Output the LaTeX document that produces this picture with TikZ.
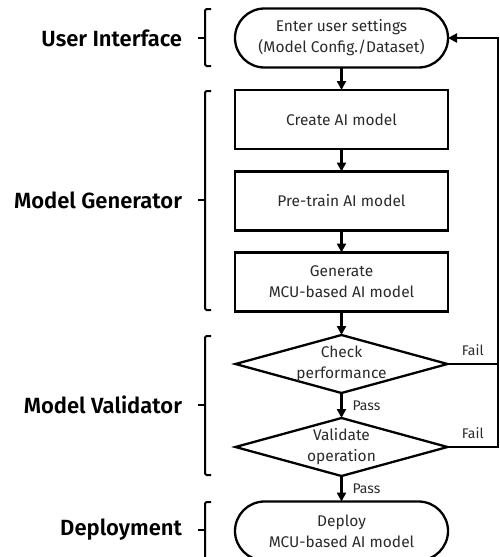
\documentclass[tikz,border=0pt]{standalone}
\usepackage{fontspec}
\setmainfont{Fira Sans}[BoldFont={* SemiBold}]
\usetikzlibrary{arrows.meta,shapes.misc,shapes.geometric}
\definecolor{txt}{HTML}{2a2a2a}
\tikzset{
  every node/.style={inner sep=0pt,outer sep=0pt},
  body/.style={font=\fontsize{15.5}{21}\selectfont,text=txt,align=center},
  terminal/.style={body,draw,line width=2.3pt,rounded rectangle,minimum width=213pt,minimum height=59pt},
  procbox/.style={body,draw,line width=2.3pt,rectangle,minimum width=213pt,minimum height=59pt},
  decision/.style={draw,line width=2.3pt,diamond,minimum width=212pt,minimum height=58pt},
  small/.style={font=\fontsize{14}{16}\selectfont,text=txt},
  group/.style={font=\bfseries\fontsize{22}{24}\selectfont,anchor=east},
  flow/.style={line width=2.3pt,-{Triangle[length=9pt,width=9pt]}},
  plain/.style={line width=2.3pt},
  brk/.style={line width=2pt,rounded corners=1.5pt},
}
\begin{document}
\begin{tikzpicture}[x=1pt,y=-1pt]
\useasboundingbox (0,0) rectangle (500,557);
\clip (0,0) rectangle (500,557);

% nodes
\node[terminal] (t1) at (341.5,38) {Enter user settings\\(Model Config./Dataset)};
\node[procbox] (b1) at (341.5,119.5) {Create AI model};
\node[procbox] (b2) at (341.5,201) {Pre-train AI model};
\node[procbox] (b3) at (341.5,282) {Generate\\MCU-based AI model};
\node[decision] (d1) at (341.5,364) {};
\node[body] (d1t) at (d1) {Check\\performance};
\node[decision] (d2) at (341.5,447) {};
\node[body] (d2t) at (d2) {Validate\\operation};
\node[terminal] (t2) at (341.5,531) {Deploy\\MCU-based AI model};

% flow
\draw[flow] (t1) -- (b1);
\draw[flow] (b1) -- (b2);
\draw[flow] (b2) -- (b3);
\draw[flow] (b3) -- (d1);
\draw[flow] (d1) -- (d2) node[small,midway,anchor=west,xshift=11pt] {Pass};
\draw[flow] (d2) -- (t2) node[small,midway,anchor=west,xshift=11pt] {Pass};

% feedback
\coordinate (fbx) at (498,0);
\draw[plain] (d1.east) -- (d1.east -| fbx) node[small,midway,anchor=south,yshift=8pt] {Fail};
\draw[flow] (d2.east) -- (d2.east -| fbx) node[small,midway,anchor=south,yshift=8pt] {Fail} |- (t1.east);

% group labels and brackets
\node[group] (g1) at (182,38) {User Interface};
\node[group] (g2) at (182,200) {Model Generator};
\node[group] (g3) at (182,405) {Model Validator};
\node[group] (g4) at (182,530) {Deployment};

\draw[brk] (211,9) -- (205,9) -- (205,66) -- (211,66);
\draw[brk] (198,38) -- (205,38);
\draw[brk] (211,91) -- (205,91) -- (205,310) -- (211,310);
\draw[brk] (198,200) -- (205,200);
\draw[brk] (211,336) -- (205,336) -- (205,475) -- (211,475);
\draw[brk] (198,405) -- (205,405);
\draw[brk] (211,502) -- (205,502) -- (205,565) -- (211,565);
\draw[brk] (198,530) -- (205,530);
\end{tikzpicture}
\end{document}
